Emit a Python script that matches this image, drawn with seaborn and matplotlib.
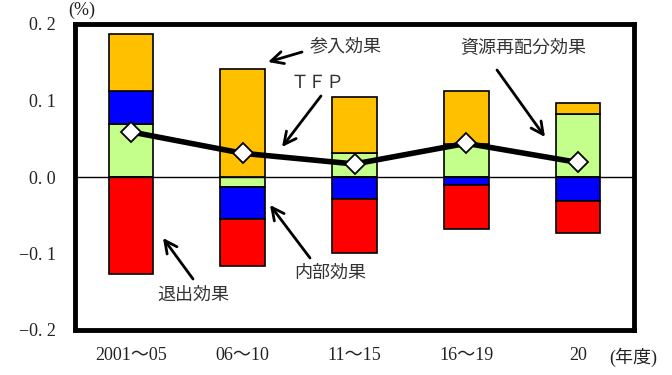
import numpy as np
import pandas as pd
import matplotlib
matplotlib.use("Agg")
import matplotlib.pyplot as plt
import seaborn as sns

categories = ["2001～05", "06～10", "11～15", "16～19", "20"]
entry = [0.074, 0.141, 0.073, 0.069, 0.0145]          # 参入効果
exit_ = [-0.127, -0.062, -0.070, -0.058, -0.042]      # 退出効果
internal = [0.044, -0.042, -0.029, -0.0105, -0.031]   # 内部効果
realloc = [0.069, -0.0127, 0.031, 0.043, 0.082]       # 資源再配分効果
tfp = [0.059, 0.031, 0.017, 0.044, 0.019]             # TFP
yticks = [-0.2, -0.1, 0.0, 0.1, 0.2]
ytick_labels = ["−0. 2", "−0. 1", "0. 0", "0. 1", "0. 2"]

sns.set_theme(style="white")
serif = ['Liberation Serif', 'Noto Sans CJK JP']
plt.rcParams['font.family'] = serif
jp = ['Noto Sans CJK JP', 'DejaVu Sans']

fig = plt.figure(figsize=(6.72, 3.75), dpi=100)
ax = fig.add_axes([75/672, 1-330/375, 559/672, 306/375])

colors = {"realloc": "#C4FF8C", "internal": "#0000FF", "entry": "#FFC000", "exit": "#FF0000"}
pos_bottom = np.zeros(len(categories))
neg_bottom = np.zeros(len(categories))
for key, vals in [("realloc", realloc), ("internal", internal), ("entry", entry), ("exit", exit_)]:
    vals = np.array(vals, dtype=float)
    bottoms = np.where(vals >= 0, pos_bottom, neg_bottom)
    df = pd.DataFrame({"cat": categories, "val": vals})
    sns.barplot(data=df, x="cat", y="val", order=categories, bottom=bottoms,
                color=colors[key], saturation=1, width=0.4, edgecolor="black",
                linewidth=1.2, ax=ax, errorbar=None, zorder=2)
    pos_bottom = pos_bottom + np.where(vals >= 0, vals, 0)
    neg_bottom = neg_bottom + np.where(vals < 0, vals, 0)

ax.axhline(0, color="black", linewidth=1.0, zorder=3)

dft = pd.DataFrame({"cat": categories, "tfp": tfp})
sns.pointplot(data=dft, x="cat", y="tfp", order=categories, color="black",
              markers="D", linestyles="-", errorbar=None, ax=ax,
              markerfacecolor="white", markeredgecolor="black",
              markersize=10, markeredgewidth=1.3, linewidth=4, zorder=5)

ax.set_xlim(-0.5, 4.5)
ax.set_ylim(-0.2, 0.2)
ax.set_yticks(yticks)
ax.set_yticklabels(ytick_labels, fontsize=13, family=serif, color="#222222")
ax.set_xticks(range(len(categories)))
ax.set_xticklabels(categories, fontsize=13, family=serif, color="#222222")
ax.tick_params(axis="both", length=0)
ax.tick_params(axis="y", pad=14)
ax.tick_params(axis="x", pad=12)
ax.set_xlabel("")
ax.set_ylabel("")
for s in ax.spines.values():
    s.set_visible(True)
    s.set_color("black")
    s.set_linewidth(3.5)
ax.grid(False)

def fp(x, y):
    return (x, 375 - y)

def arrow(head, tail):
    ax.annotate("", xy=fp(*head), xytext=fp(*tail), xycoords="figure pixels",
                textcoords="figure pixels",
                arrowprops=dict(arrowstyle="->", color="black", lw=2, mutation_scale=22,
                                shrinkA=0, shrinkB=0))

arrow((268, 62), (302, 52))
fig.text(310/672, 1-46/375, "参入効果", fontsize=13, family=jp, ha="left", va="center", color="#333333")

arrow((282, 147), (321, 96))
fig.text(318/672, 1-83/375, "ＴＦＰ", fontsize=13, family=jp, ha="center", va="center", color="#333333")

arrow((545, 137), (497, 70))
fig.text(523/672, 1-48/375, "資源再配分効果", fontsize=13, family=jp, ha="center", va="center", color="#333333")

arrow((163, 238), (193, 279))
fig.text(193/672, 1-295/375, "退出効果", fontsize=13, family=jp, ha="center", va="center", color="#333333")

arrow((270, 205), (310, 258))
fig.text(330/672, 1-273/375, "内部効果", fontsize=13, family=jp, ha="center", va="center", color="#333333")

fig.text(82/672, 1-10/375, "(%)", fontsize=13, family=serif, ha="center", va="center", color="#222222")
fig.text(633/672, 1-357/375, "(年度)", fontsize=13, family=serif, ha="center", va="center", color="#222222")

fig.savefig("out.png", dpi=100)
